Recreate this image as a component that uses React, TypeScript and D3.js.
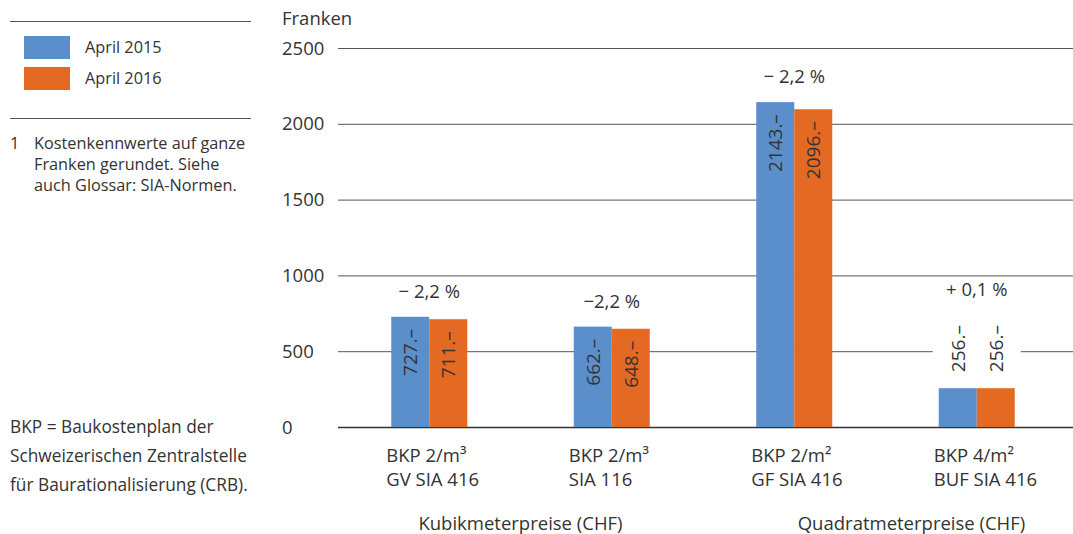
import React, { useEffect, useRef } from 'react';
import * as d3 from 'd3';

const categoriesLine1 = ['BKP 2/m³', 'BKP 2/m³', 'BKP 2/m²', 'BKP 4/m²'];
const categoriesLine2 = ['GV SIA 416', 'SIA 116', 'GF SIA 416', 'BUF SIA 416'];
const series = ['April 2015', 'April 2016'];
const values2015 = [727, 662, 2143, 256];
const values2016 = [711, 648, 2096, 256];
const changeLabels = ['− 2,2 %', '−2,2 %', '− 2,2 %', '+ 0,1 %'];
const yTicks = [0, 500, 1000, 1500, 2000, 2500];
const groupLabels = ['Kubikmeterpreise (CHF)', 'Quadratmeterpreise (CHF)'];
const footnoteLines = ['Kostenkennwerte auf ganze', 'Franken gerundet. Siehe', 'auch Glossar: SIA-Normen.'];
const bkpLines = ['BKP = Baukostenplan der', 'Schweizerischen Zentralstelle', 'für Baurationalisierung (CRB).'];

const BLUE = '#5b8fcb';
const ORANGE = '#e46a24';
const TEXT = '#333333';
const FONT = '"Open Sans", "Noto Sans", sans-serif';

const App: React.FC = () => {
  const svgRef = useRef<SVGSVGElement>(null);

  useEffect(() => {
    if (!svgRef.current) return;
    document.body.style.margin = '0';
    const svg = d3.select(svgRef.current);
    svg.selectAll('*').remove();

    const width = 1073;
    const height = 534;
    svg.attr('width', width).attr('height', height).style('font-family', FONT);

    const plotLeft = 338;
    const plotRight = 1073;
    const y = d3.scaleLinear().domain([0, 2500]).range([427, 48]);
    const x0 = d3.scaleBand<number>().domain(d3.range(categoriesLine1.length)).range([338, 1068]);
    const barW = 38;
    const x1 = d3.scaleBand<number>().domain([0, 1]).range([0, barW * 2]);
    const colors = [BLUE, ORANGE];
    const data = categoriesLine1.map((_, i) => [values2015[i], values2016[i]]);

    // Gitterlinien
    svg.append('g').selectAll('line').data(yTicks).enter().append('line')
      .attr('x1', plotLeft).attr('x2', plotRight)
      .attr('y1', (d) => y(d) + 0.5).attr('y2', (d) => y(d) + 0.5)
      .attr('stroke', (d) => (d === 0 ? '#333' : '#555'))
      .attr('stroke-width', (d) => (d === 0 ? 1.5 : 1));

    svg.append('g').selectAll('text').data(yTicks).enter().append('text')
      .attr('x', 282).attr('y', (d) => y(d) + 6.5)
      .attr('fill', TEXT).style('font-size', '18.5px')
      .text((d) => String(d));

    svg.append('text').attr('x', 282).attr('y', 25).attr('fill', TEXT).style('font-size', '18.5px').text('Franken');

    const labelLen = 52;
    const isOutside = (vals: number[]) => vals.some((v) => y(0) - y(v) < labelLen + 12);
    const groups = svg.append('g').selectAll('g').data(data).enter().append('g')
      .attr('transform', (_, i) => `translate(${x0(i)! + x0.bandwidth() / 2 - barW},0)`);

    // weisser Hintergrund für Beschriftungen über kurzen Balken
    groups.each(function (vals) {
      const g = d3.select(this);
      if (isOutside(vals)) {
        const top = Math.min(...vals.map((v) => y(v))) - 16 - labelLen;
        g.append('rect').attr('x', -6).attr('y', top - 4).attr('width', barW * 2 + 12).attr('height', labelLen + 12)
          .attr('fill', '#fff');
      }
    });

    groups.selectAll('rect.bar').data((d) => d).enter().append('rect')
      .attr('class', 'bar')
      .attr('x', (_, j) => x1(j)!)
      .attr('y', (d) => y(d))
      .attr('width', barW)
      .attr('height', (d) => y(0) - y(d))
      .attr('fill', (_, j) => colors[j]);

    groups.selectAll('text.val').data((d) => d).enter().append('text')
      .attr('class', 'val')
      .attr('transform', (d, j) => {
        const cx = x1(j)! + barW / 2 + 7;
        const inside = y(0) - y(d) >= labelLen + 12;
        const yy = inside ? y(d) + 12 : y(d) - 16;
        return `translate(${cx},${yy}) rotate(-90)`;
      })
      .attr('text-anchor', (d) => (y(0) - y(d) >= labelLen + 12 ? 'end' : 'start'))
      .attr('fill', TEXT).style('font-size', '19px')
      .text((d) => `${d}.–`);

    groups.append('text')
      .attr('x', barW)
      .attr('y', (vals) => {
        const top = Math.min(...vals.map((v) => y(v)));
        return isOutside(vals) ? top - 16 - labelLen - 24 : top - 19;
      })
      .attr('text-anchor', 'middle').attr('fill', TEXT).style('font-size', '18.5px')
      .text((_, i) => changeLabels[i]);

    // Kategorien
    const cats = svg.append('g').selectAll('text').data(categoriesLine1).enter().append('text')
      .attr('fill', TEXT).style('font-size', '18.5px');
    cats.append('tspan').attr('x', (_, i) => x0(i)! + x0.bandwidth() / 2 - 43).attr('y', 462).text((d) => d);
    cats.append('tspan').attr('x', (_, i) => x0(i)! + x0.bandwidth() / 2 - 43).attr('y', 486).text((_, i) => categoriesLine2[i]);

    svg.append('g').selectAll('text').data(groupLabels).enter().append('text')
      .attr('x', (_, i) => (x0(i * 2)! + x0(i * 2 + 1)! + x0.bandwidth()) / 2 + (i === 1 ? 26 : 0))
      .attr('y', 530).attr('text-anchor', 'middle').attr('fill', TEXT).style('font-size', '18.5px')
      .text((d) => d);

    // linke Spalte
    const side = svg.append('g');
    side.append('line').attr('x1', 10).attr('x2', 251).attr('y1', 21.5).attr('y2', 21.5).attr('stroke', '#555');
    side.append('line').attr('x1', 10).attr('x2', 251).attr('y1', 118.5).attr('y2', 118.5).attr('stroke', '#555');
    series.forEach((s, i) => {
      side.append('rect').attr('x', 24).attr('y', 36 + i * 31).attr('width', 46).attr('height', 23).attr('fill', colors[i]);
      side.append('text').attr('x', 85).attr('y', 53 + i * 31).attr('fill', TEXT).style('font-size', '16.3px').text(s);
    });
    side.append('text').attr('x', 10).attr('y', 149).attr('fill', TEXT).style('font-size', '16.3px').text('1');
    footnoteLines.forEach((t, i) => {
      side.append('text').attr('x', 34).attr('y', 149 + i * 21).attr('fill', TEXT).style('font-size', '16.3px').text(t);
    });
    bkpLines.forEach((t, i) => {
      side.append('text').attr('x', 10).attr('y', 433 + i * 29).attr('fill', TEXT).style('font-size', '17.3px').text(t);
    });
  }, []);

  return <svg ref={svgRef} style={{ display: 'block' }}></svg>;
};

export default App;
